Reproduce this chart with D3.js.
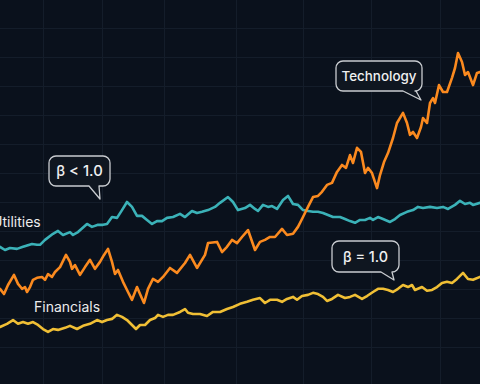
<!DOCTYPE html>
<html><head><meta charset="utf-8">
<script src="https://cdn.jsdelivr.net/npm/d3@7"></script>
<style>html,body{margin:0;padding:0;background:#0a111c;}svg{display:block;}</style>
</head><body>
<svg id="c" width="480" height="384"></svg>
<script>
// ---- data (t = trading day index, v = indexed level) ----
const technology = [[0,60.0],[4,58.2],[8,61.3],[14,64.8],[18,61.7],[22,60.0],[25,60.6],[27,58.9],[30,60.6],[33,63.1],[37,63.8],[42,64.1],[45,63.1],[48,65.1],[52,64.1],[55,65.8],[60,67.5],[66,71.7],[70,69.3],[72,66.9],[75,68.2],[80,64.8],[85,67.5],[90,70.0],[95,66.9],[100,69.3],[104,71.7],[108,73.8],[112,69.3],[115,65.1],[118,66.5],[123,62.4],[128,58.9],[132,56.2],[137,60.6],[140,58.2],[144,55.1],[148,60.0],[153,63.4],[158,62.4],[163,64.1],[170,67.2],[177,65.5],[185,68.9],[190,71.7],[197,67.2],[205,71.7],[208,75.8],[217,76.2],[222,72.7],[227,74.5],[232,76.9],[237,75.8],[242,77.9],[248,80.3],[255,73.4],[260,76.2],[265,76.9],[270,77.9],[275,77.9],[282,80.7],[287,78.6],[293,79.0],[298,81.4],[303,84.8],[308,88.3],[313,91.7],[318,92.1],[322,93.5],[327,95.9],[332,96.6],[337,100.4],[342,102.8],[346,101.8],[350,106.2],[353,103.5],[357,108.7],[361,107.3],[365,100.0],[368,101.8],[372,100.0],[377,94.8],[380,99.3],[384,103.8],[388,106.9],[393,112.1],[397,117.3],[403,120.8],[407,117.3],[410,113.2],[413,114.2],[417,112.1],[421,115.9],[423,119.0],[427,117.3],[430,124.2],[433,125.9],[435,124.2],[439,130.4],[443,128.0],[447,128.0],[452,132.9],[455,136.3],[458,141.5],[462,138.4],[465,133.9],[468,134.9],[473,130.4],[477,134.6],[480,134.9]];
const utilities = [[0,74.5],[5,73.4],[10,74.1],[17,73.8],[23,74.5],[32,75.5],[37,75.2],[40,75.2],[45,76.9],[53,79.0],[58,80.0],[63,78.6],[70,79.6],[73,78.6],[78,79.6],[87,82.4],[92,81.4],[98,82.1],[103,82.1],[107,82.4],[112,84.8],[117,84.5],[122,87.2],[127,90.0],[132,88.3],[137,85.2],[142,85.2],[147,83.8],[152,82.4],[157,83.4],[162,83.4],[167,84.5],[173,84.8],[180,85.9],[185,84.8],[192,86.9],[197,86.2],[202,86.6],[208,87.2],[215,88.3],[220,89.7],[228,91.7],[233,90.0],[238,87.2],[245,87.9],[250,89.0],[255,87.6],[258,86.9],[263,89.0],[268,88.3],[272,88.6],[277,87.6],[283,90.7],[288,92.1],[293,89.3],[298,89.0],[303,87.2],[308,86.9],[313,86.6],[318,86.6],[323,86.2],[328,85.5],[333,84.8],[340,84.8],[345,84.1],[350,83.4],[355,82.8],[360,83.8],[365,83.8],[370,84.5],[373,83.8],[378,84.8],[383,84.1],[390,83.1],[395,84.1],[400,85.5],[407,86.6],[413,87.2],[418,88.3],[423,87.9],[430,88.3],[437,87.9],[443,88.3],[448,87.6],[455,89.0],[460,90.4],[465,89.3],[470,89.7],[473,89.0],[480,89.7]];
const financials = [[0,46.8],[7,47.9],[13,49.2],[18,47.9],[23,48.5],[28,47.9],[33,48.5],[38,47.5],[43,46.1],[48,45.1],[53,46.1],[58,45.8],[65,46.5],[70,47.2],[77,46.1],[83,47.2],[90,47.9],[97,49.2],[102,48.5],[107,49.2],[112,49.6],[117,51.0],[122,50.3],[127,49.2],[132,47.5],[136,46.1],[140,47.5],[145,47.5],[150,49.2],[155,49.9],[158,51.0],[163,50.3],[168,51.0],[173,51.0],[180,52.0],[185,53.0],[188,51.7],[193,51.3],[200,51.3],[207,50.6],[213,52.0],[220,52.0],[227,53.0],[233,53.7],[240,54.8],[247,55.5],[253,56.2],[260,56.8],[265,55.1],[270,56.2],[277,56.2],[282,55.5],[287,56.5],[293,57.2],[297,56.2],[302,57.5],[308,57.9],[313,58.6],[318,58.2],[323,57.2],[327,55.8],[332,56.5],[338,57.9],[345,56.8],[350,57.2],[355,57.9],[362,56.5],[367,57.5],[373,58.9],[378,60.0],[383,60.0],[388,59.6],[393,58.9],[398,60.0],[403,61.3],[408,60.6],[412,61.3],[415,59.6],[422,60.6],[427,59.3],[432,59.6],[437,60.6],[442,62.0],[447,62.4],[452,62.0],[457,63.4],[463,65.5],[468,63.4],[473,63.1],[480,64.1]];
const gridT = [43,102,164,236,303,371,440];
const gridV = [40,50,60,70,80,90,100,110,120,130,140,150];
const seriesNames = ["Utilities","Financials","Technology"];
const calloutTexts = ["Technology","β < 1.0","β = 1.0"];

// ---- drawing ----
const W = 480, H = 384;
const svg = d3.select("#c");
const x = d3.scaleLinear().domain([0,480]).range([0,480]);
const y = d3.scaleLinear().domain([27.1,159.8]).range([384,0]);

svg.append("rect").attr("width",W).attr("height",H).attr("fill","#0a111c");

const g = svg.append("g");
g.selectAll("line.v").data(gridT).join("line")
  .attr("x1",d=>x(d)+0.5).attr("x2",d=>x(d)+0.5).attr("y1",0).attr("y2",H)
  .attr("stroke","#141d2a").attr("stroke-width",1);
g.selectAll("line.h").data(gridV).join("line")
  .attr("y1",d=>Math.round(y(d))+0.5).attr("y2",d=>Math.round(y(d))+0.5).attr("x1",0).attr("x2",W)
  .attr("stroke","#141d2a").attr("stroke-width",1);

const line = d3.line().x(d=>x(d[0])).y(d=>y(d[1])).curve(d3.curveLinear);
const series = [
  {data:utilities, color:"#3bb2b8"},
  {data:financials, color:"#f0bf35"},
  {data:technology, color:"#fb8a1f"}
];
svg.selectAll("path.s").data(series).join("path")
  .attr("d",d=>line(d.data)).attr("fill","none")
  .attr("stroke",d=>d.color).attr("stroke-width",2.6)
  .attr("stroke-linejoin","round").attr("stroke-linecap","round");

const font = "Inter, 'Noto Sans', sans-serif";
// series labels
svg.append("text").attr("x",-8).attr("y",227).text(seriesNames[0])
  .attr("fill","#ececec").attr("font-family",font).attr("font-size",14);
svg.append("text").attr("x",34).attr("y",312).text(seriesNames[1])
  .attr("fill","#ececec").attr("font-family",font).attr("font-size",14);

// callouts
function calloutPath(bx,by,bw,bh,r,t1,t2,tx,ty){
  const p = d3.path();
  p.moveTo(bx+r,by);
  p.lineTo(bx+bw-r,by); p.arcTo(bx+bw,by,bx+bw,by+r,r);
  p.lineTo(bx+bw,by+bh-r); p.arcTo(bx+bw,by+bh,bx+bw-r,by+bh,r);
  p.lineTo(t2,by+bh); p.lineTo(tx,ty); p.lineTo(t1,by+bh);
  p.lineTo(bx+r,by+bh); p.arcTo(bx,by+bh,bx,by+bh-r,r);
  p.lineTo(bx,by+r); p.arcTo(bx,by,bx+r,by,r);
  p.closePath();
  return p.toString();
}
const callouts = [
  {text:calloutTexts[0], b:[336,61,86,30], t:[403,416,421,100], size:13.4},
  {text:calloutTexts[1], b:[49,156,61,30], t:[89,99,100,199], size:14.8},
  {text:calloutTexts[2], b:[332,241,67,31], t:[381,392,394,280], size:14.4}
];
callouts.forEach(c=>{
  const [bx,by,bw,bh]=c.b, [t1,t2,tx,ty]=c.t;
  svg.append("path").attr("d",calloutPath(bx,by,bw,bh,7,t1,t2,tx,ty))
    .attr("fill","#0f1620").attr("stroke","#c9ccd0").attr("stroke-width",1.3)
    .attr("stroke-linejoin","round");
  svg.append("text").attr("x",bx+bw/2).attr("y",by+bh/2).attr("dy","0.36em")
    .attr("text-anchor","middle").text(c.text)
    .attr("fill","#f0f0f0").attr("font-family",font).attr("font-size",c.size).attr("font-weight",500);
});
</script>
</body></html>
